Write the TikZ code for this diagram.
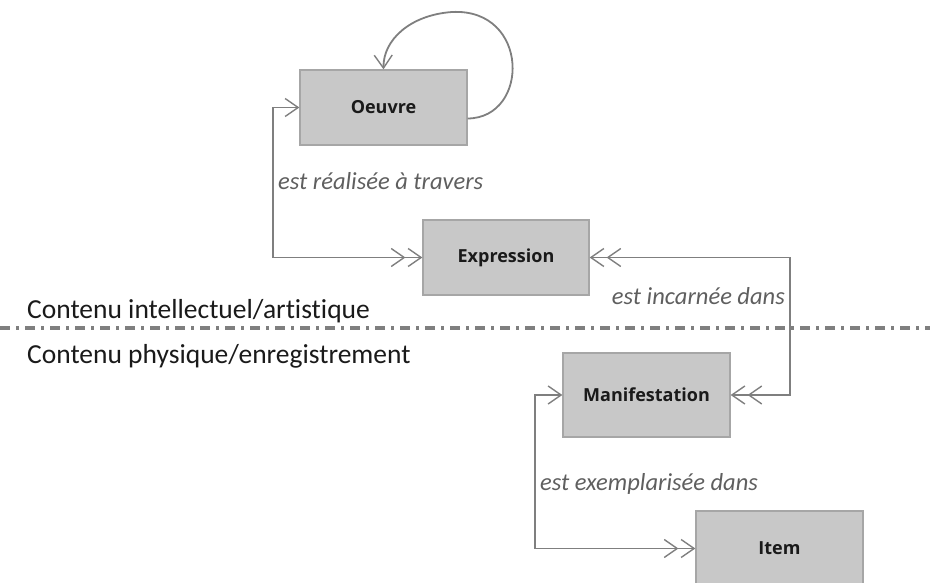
\documentclass[tikz,border=0pt]{standalone}
\usepackage{fontspec}
\setmainfont{Carlito}[Ligatures=NoCommon]
\newfontfamily\boxfont{Open Sans}
\usetikzlibrary{arrows.meta,calc}
\definecolor{boxfill}{HTML}{C8C8C8}
\definecolor{boxline}{HTML}{A6A6A6}
\definecolor{conn}{HTML}{7F7F7F}
\definecolor{lbl}{HTML}{5F5F5F}
\definecolor{txt}{HTML}{1A1A1A}
\tikzset{
  ent/.style={draw=boxline, fill=boxfill, line width=1.3pt, inner sep=0pt,
    font=\boxfont\bfseries\fontsize{18}{20}\selectfont, text=txt},
  conn/.style={draw=conn, line width=1.8pt},
  one/.style={-{Straight Barb[length=13pt,width=18pt,line width=1.4pt]}},
  two/.style={-{Straight Barb[length=13pt,width=18pt,line width=1.4pt,sep=2pt] Straight Barb[length=13pt,width=18pt,line width=1.4pt]}},
  rel/.style={font=\itshape\fontsize{24.5}{27}\selectfont, text=lbl, inner sep=0pt, anchor=base west},
  zone/.style={font=\fontsize{27.5}{30}\selectfont, text=txt, inner sep=0pt, anchor=base west},
}
\begin{document}
\begin{tikzpicture}[x=1pt,y=-1pt]
\useasboundingbox (0,0) rectangle (930,583);
\node[ent, minimum width=167pt, minimum height=75pt] (oeuvre) at (383.5,107.5) {Oeuvre};
\node[ent, minimum width=166pt, minimum height=75pt] (expr) at (506,257.5) {Expression};
\node[ent, minimum width=167pt, minimum height=84pt] (manif) at (646.5,395) {Manifestation};
\node[ent, minimum width=167pt, minimum height=75pt] (item) at (779.5,548.5) {Item};
% separator
\coordinate (sepL) at (0,328);
\coordinate (sepR) at (930,328);
\draw[draw=conn, line width=3.2pt, dash pattern=on 10pt off 6pt on 3pt off 6pt] (sepL) -- (sepR);
\node[zone] (zi) at (27,318) {Contenu intellectuel/artistique};
\node[zone] (zp) at (27,363) {Contenu physique/enregistrement};
% self loop
\draw[conn, one] ($(oeuvre.east)+(0,11)$) .. controls (530,118) and (530,8) .. (452,12)
  .. controls (410,15) and (383,40) .. (oeuvre.north);
% Oeuvre - Expression
\coordinate (c1) at (273,0);
\draw[conn, one] (expr.west -| c1) |- (oeuvre.west);
\draw[conn, two] (oeuvre.west -| c1) |- (expr.west);
% Expression - Manifestation
\coordinate (c2) at (790,0);
\draw[conn, two] (manif.east -| c2) |- (expr.east);
\draw[conn, two] (expr.east -| c2) |- (manif.east);
% Manifestation - Item
\coordinate (c3) at (535,0);
\draw[conn, one] (item.west -| c3) |- (manif.west);
\draw[conn, two] (manif.west -| c3) |- (item.west);
% labels
\node[rel] (l1) at (278,190) {est réalisée à travers};
\node[rel, anchor=base east] (l2) at (785,304) {est incarnée dans};
\node[rel] (l3) at (540,490) {est exemplarisée dans};
\end{tikzpicture}
\end{document}
